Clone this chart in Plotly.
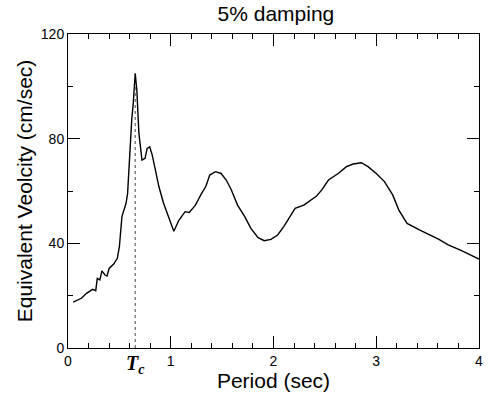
import plotly.graph_objects as go

period = [0.05, 0.13, 0.18, 0.24, 0.27, 0.285, 0.31, 0.33, 0.36, 0.38, 0.40, 0.445, 0.48, 0.50,
          0.525, 0.565, 0.58, 0.605, 0.62, 0.635, 0.654, 0.67, 0.69, 0.72, 0.75, 0.77, 0.795,
          0.82, 0.885, 0.93, 0.98, 1.03, 1.08, 1.14, 1.18, 1.24, 1.30, 1.34, 1.38, 1.435, 1.49,
          1.54, 1.59, 1.65, 1.72, 1.78, 1.85, 1.91, 1.975, 2.04, 2.10, 2.17, 2.21, 2.295, 2.36,
          2.42, 2.47, 2.535, 2.63, 2.71, 2.775, 2.855, 2.92, 3.0, 3.08, 3.16, 3.22, 3.30, 3.42,
          3.61, 3.70, 3.83, 4.0]
velocity = [17.5, 19.0, 20.9, 22.4, 21.9, 26.6, 26.0, 29.5, 27.9, 27.5, 30.4, 32.1, 34.3, 38.7,
            50.2, 55.3, 59.1, 78.2, 87.1, 93.5, 105.0, 98.6, 82.0, 71.8, 72.5, 76.3, 76.9,
            73.7, 61.6, 55.3, 50.2, 44.6, 48.9, 52.1, 51.8, 54.6, 59.1, 61.6, 66.1, 67.4, 66.7,
            64.2, 60.4, 54.6, 50.2, 45.7, 42.2, 41.0, 41.5, 43.2, 46.4, 50.8, 53.4, 54.6, 56.6,
            58.1, 60.4, 64.2, 66.7, 69.3, 70.3, 70.8, 69.3, 66.7, 63.6, 58.5, 52.7, 47.6, 45.1,
            41.5, 39.4, 37.2, 34.0]

tc = 0.654
tc_line_y = [0, 100]
x_ticks = [0, 1, 2, 3, 4]
y_ticks = [0, 40, 80, 120]

font = "Liberation Sans, Arial, sans-serif"

fig = go.Figure()
fig.add_trace(go.Scatter(x=period, y=velocity, mode="lines",
                         line=dict(color="black", width=1.4), showlegend=False))
fig.add_trace(go.Scatter(x=[tc, tc], y=tc_line_y, mode="lines",
                         line=dict(color="#444", width=1, dash="dot"), showlegend=False))

fig.update_layout(
    width=491, height=399,
    margin=dict(l=68, r=8, t=34, b=51),
    paper_bgcolor="white", plot_bgcolor="white",
    title=dict(text="5% damping", x=0.562, xanchor="center", y=0.985, yanchor="top",
               font=dict(family=font, size=21, color="black")),
    font=dict(family=font, color="black"),
)
fig.update_xaxes(
    range=[0, 4], tickvals=x_ticks, ticktext=[str(v) for v in x_ticks],
    ticks="inside", ticklen=12, tickwidth=1, tickcolor="black",
    minor=dict(dtick=0.2, tick0=0, ticks="inside", ticklen=5, tickcolor="black"),
    showline=True, linecolor="black", linewidth=1, mirror="ticks",
    showgrid=False, zeroline=False,
    tickfont=dict(size=14, family=font),
    title=dict(text="Period (sec)", font=dict(size=21, family=font), standoff=0),
)
fig.update_yaxes(
    range=[0, 120], tickvals=y_ticks, ticktext=[str(v) for v in y_ticks],
    ticks="inside", ticklen=12, tickwidth=1, tickcolor="black",
    minor=dict(dtick=20, tick0=0, ticks="inside", ticklen=5, tickcolor="black"),
    showline=True, linecolor="black", linewidth=1, mirror="ticks",
    showgrid=False, zeroline=False,
    tickfont=dict(size=14, family=font),
    title=dict(text="Equivalent Veolcity (cm/sec)", font=dict(size=21, family=font), standoff=2),
)
fig.add_annotation(x=tc, y=0, xref="x", yref="paper", yanchor="top", yshift=-2,
                   text="<b><i>T<sub>c</sub></i></b>", showarrow=False,
                   font=dict(family="Liberation Serif, Times New Roman, serif", size=20, color="black"))

fig.write_html("out.html")
